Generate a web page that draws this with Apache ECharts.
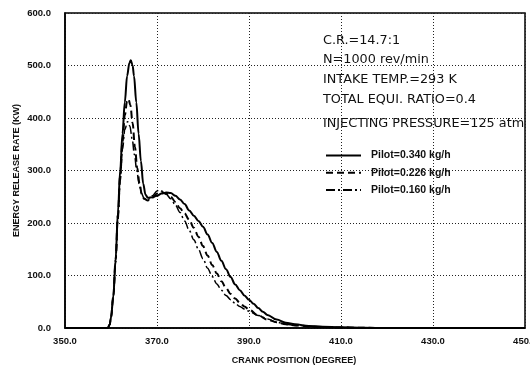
<!DOCTYPE html>
<html>
<head>
<meta charset="utf-8">
<script src="https://cdn.jsdelivr.net/npm/echarts@6/dist/echarts.min.js"></script>
<style>
  html, body { margin: 0; padding: 0; background: #fff; }
  #chart { width: 530px; height: 371px; }
</style>
</head>
<body>
<div id="chart"></div>
<script>
// Energy release rate vs crank position for three pilot fuel rates
const xTicks = [350, 370, 390, 410, 430, 450];
const yTicks = [0, 100, 200, 300, 400, 500, 600];

const pilot340Crank = [350, 358, 359.3, 359.7, 360, 360.5, 361, 361.5, 362, 362.5, 363, 363.5, 364, 364.3, 364.7, 365, 365.5, 366, 366.5, 367, 367.5, 368, 369, 370, 371, 372, 373, 374, 375, 376, 377, 378, 379, 380, 381, 382, 383, 384, 385, 386, 387, 388, 389, 390, 391, 392, 393, 394, 396, 398, 400, 403, 406, 410, 415, 420, 450];
const pilot340Rate  = [0, 0, 0, 6, 20, 60, 130, 220, 300, 370, 430, 480, 505, 510, 500, 480, 430, 370, 318, 275, 254, 248, 249, 252, 256, 258, 257, 252, 245, 236, 224, 214, 204, 193, 178, 162, 145, 128, 112, 97, 83, 72, 62, 54, 46, 38, 31, 25, 16, 10, 7, 4, 2.5, 1.2, 0.4, 0, 0];

const pilot226Crank = [350, 358, 359.3, 359.7, 360, 360.5, 361, 361.5, 362, 362.5, 363, 363.5, 363.8, 364.2, 364.7, 365.2, 365.7, 366.2, 366.7, 367.2, 368, 369, 370, 371, 372, 373, 374, 375, 376, 377, 378, 379, 380, 381, 382, 383, 384, 385, 386, 387, 388, 389, 390, 392, 394, 396, 398, 400, 405, 410, 420, 450];
const pilot226Rate  = [0, 0, 0, 6, 20, 60, 130, 215, 290, 355, 405, 432, 436, 425, 390, 345, 305, 275, 255, 246, 243, 248, 256, 259, 256, 250, 240, 228, 218, 206, 191, 174, 156, 138, 120, 104, 89, 76, 65, 56, 48, 41, 35, 24, 16, 11, 7, 5, 2, 0.8, 0, 0];

const pilot160Crank = [350, 358, 359.3, 359.7, 360, 360.5, 361, 361.5, 362, 362.5, 363, 363.6, 364.1, 364.6, 365.1, 365.6, 366.1, 366.6, 367.2, 368, 369, 370, 370.5, 371, 372, 373, 374, 375, 376, 377, 378, 379, 380, 381, 382, 383, 384, 385, 386, 387, 388, 389, 390, 392, 394, 396, 398, 400, 405, 410, 420, 450];
const pilot160Rate  = [0, 0, 0, 6, 20, 60, 125, 205, 280, 340, 378, 393, 385, 360, 330, 300, 275, 257, 247, 244, 252, 261, 263, 261, 255, 246, 234, 220, 204, 186, 168, 150, 132, 114, 98, 84, 72, 62, 54, 47, 41, 36, 32, 24, 17, 11, 7, 5, 2, 0.8, 0, 0];

const seriesNames = ['Pilot=0.340 kg/h', 'Pilot=0.226 kg/h', 'Pilot=0.160 kg/h'];
const conditions = [
  'C.R.=14.7:1',
  'N=1000 rev/min',
  'INTAKE TEMP.=293 K',
  'TOTAL EQUI. RATIO=0.4',
  'INJECTING PRESSURE=125 atm'
];

const zip = (xs, ys) => xs.map((x, i) => [x, ys[i]]);
const fmt = v => v.toFixed(1);

const chart = echarts.init(document.getElementById('chart'), null, { renderer: 'canvas' });

const tickFont = { fontFamily: 'Liberation Sans', fontSize: 9.5, fontWeight: 'bold', color: '#111' };
const dotted = { color: '#222', width: 1, type: [1, 2] };

function curve(name, data, width, dash) {
  return {
    name, type: 'line', data,
    showSymbol: false, symbol: 'none',
    smooth: 0.35, smoothMonotone: 'x',
    lineStyle: { color: '#000', width, type: dash },
    itemStyle: { color: '#000' },
    z: 3
  };
}

chart.setOption({
  animation: false,
  backgroundColor: '#fff',
  grid: { left: 65, right: 5, top: 13, bottom: 43, show: true, borderColor: '#000', borderWidth: 1.5, backgroundColor: 'transparent' },
  xAxis: {
    type: 'value', min: xTicks[0], max: xTicks[xTicks.length - 1], interval: 20,
    name: 'CRANK POSITION (DEGREE)', nameLocation: 'middle', nameGap: 28,
    nameTextStyle: { fontFamily: 'Liberation Sans', fontSize: 9, fontWeight: 'bold', color: '#111', padding: [0, 2, 0, 0] },
    axisLine: { show: true, lineStyle: { color: '#000', width: 1.5 } },
    axisTick: { show: false },
    axisLabel: Object.assign({ margin: 8, showMinLabel: true, showMaxLabel: false, formatter: fmt }, tickFont),
    splitLine: { show: true, lineStyle: dotted }
  },
  yAxis: {
    type: 'value', min: yTicks[0], max: yTicks[yTicks.length - 1], interval: 100,
    name: 'ENERGY RELEASE RATE (KW)', nameLocation: 'middle', nameGap: 44, nameMoveOverlap: false,
    nameTextStyle: { fontFamily: 'Liberation Sans', fontSize: 9, fontWeight: 'bold', color: '#111' },
    axisLine: { show: true, lineStyle: { color: '#000', width: 1.5 } },
    axisTick: { show: false },
    axisLabel: Object.assign({ margin: 14, formatter: fmt }, tickFont),
    splitLine: { show: true, lineStyle: dotted }
  },
  legend: {
    orient: 'vertical', left: 325, top: 150, padding: 0,
    itemWidth: 35, itemHeight: 10, itemGap: 6.2,
    data: seriesNames,
    itemStyle: { opacity: 0, borderWidth: 0 },
    textStyle: { fontFamily: 'Liberation Sans', fontSize: 10.5, fontWeight: 'bold', color: '#111', padding: [0, 0, 0, 5] }
  },
  graphic: conditions.map((t, i) => ({
    type: 'text', left: 323, top: [34, 53, 73, 93, 117][i],
    style: { text: t, fontFamily: 'DejaVu Sans', fontSize: 12.8, fill: '#111' },
    z: 10
  })),
  series: [
    curve(seriesNames[0], zip(pilot340Crank, pilot340Rate), 2, 'solid'),
    curve(seriesNames[1], zip(pilot226Crank, pilot226Rate), 2, [7, 4]),
    curve(seriesNames[2], zip(pilot160Crank, pilot160Rate), 1.5, [9, 3, 2, 3])
  ]
});

// the last crank label sits centred on the right border and runs off the page edge
const lastX = xTicks[xTicks.length - 1];
const [lx, ly] = chart.convertToPixel({ gridIndex: 0 }, [lastX, yTicks[0]]);
chart.setOption({
  graphic: [{
    id: 'lastCrankLabel', type: 'text', x: lx, y: ly + 8,
    style: { text: fmt(lastX), align: 'center', verticalAlign: 'top',
      font: 'bold 9.5px "Liberation Sans"', fill: '#111' }
  }]
});
</script>
</body>
</html>
